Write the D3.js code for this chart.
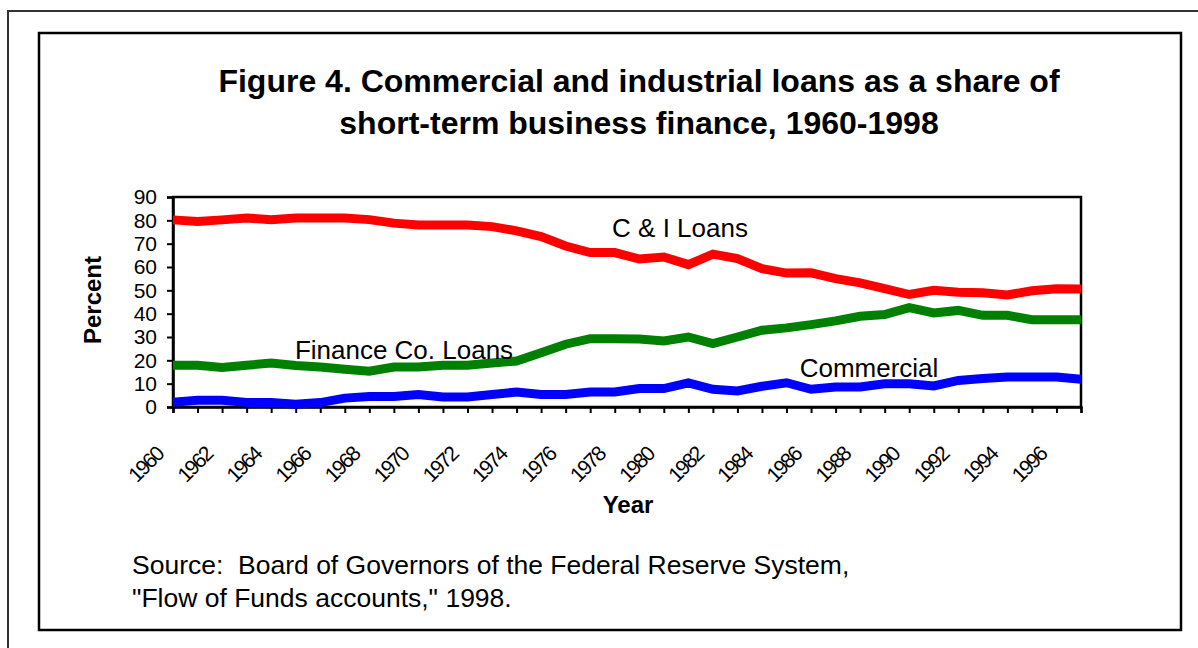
<!DOCTYPE html>
<html>
<head>
<meta charset="utf-8">
<script src="https://cdnjs.cloudflare.com/ajax/libs/d3/7.8.5/d3.min.js"></script>
<style>
  html, body { margin: 0; padding: 0; background: #fff; }
  svg { display: block; font-family: "Liberation Sans", Arial, sans-serif; }
</style>
</head>
<body>
<svg id="chart" width="1198" height="648"></svg>
<script>
// Years on the category axis
const years = d3.range(1960, 1998);
// Year labels shown under the axis (every other year)
const tickLabels = ["1960","1962","1964","1966","1968","1970","1972","1974","1976","1978",
  "1980","1982","1984","1986","1988","1990","1992","1994","1996"];
const yTicks = [0, 10, 20, 30, 40, 50, 60, 70, 80, 90];

// Shares of short-term business finance, percent
const ciLoans = [80.2, 79.5, 80.2, 81, 80.3, 81, 81, 81, 80.3, 78.8,
  78, 78, 78, 77.3, 75.5, 73, 69, 66.2, 66.2, 63.4,
  64.3, 61, 65.5, 63.6, 59.3, 57.4, 57.5, 55, 53.2, 50.7,
  48.2, 50, 49.2, 49, 48, 49.8, 50.7, 50.6];
const financeCo = [17.9, 17.9, 16.9, 17.9, 18.8, 17.8, 17.1, 16.2, 15.3, 17.1,
  17.1, 17.9, 17.9, 18.9, 19.7, 23.3, 26.9, 29.3, 29.3, 29.1,
  28.3, 30, 27.2, 30, 32.9, 33.9, 35.3, 36.9, 38.9, 39.6,
  42.6, 40.3, 41.4, 39.3, 39.3, 37.4, 37.4, 37.4];
const commercial = [2, 2.9, 2.9, 1.9, 1.9, 1.2, 1.9, 3.8, 4.5, 4.5,
  5.4, 4.3, 4.3, 5.4, 6.4, 5.4, 5.4, 6.4, 6.4, 7.9,
  7.9, 10.3, 7.6, 6.9, 8.9, 10.4, 7.6, 8.6, 8.6, 10,
  10, 9, 11.4, 12.2, 12.9, 12.9, 12.9, 11.9];

const seriesList = [
  { name: "C & I Loans", values: ciLoans, color: "#ff0000", lx: 680, ly: 228 },
  { name: "Finance Co. Loans", values: financeCo, color: "#008000", lx: 404, ly: 350 },
  { name: "Commercial", values: commercial, color: "#0000ff", lx: 869, ly: 368 }
];

const svg = d3.select("#chart");

// Outer and inner frames
svg.append("rect").attr("x", 8).attr("y", 11).attr("width", 1200).attr("height", 700)
  .attr("fill", "none").attr("stroke", "#333").attr("stroke-width", 2);
svg.append("rect").attr("x", 39).attr("y", 33).attr("width", 1142).attr("height", 597)
  .attr("fill", "none").attr("stroke", "#000").attr("stroke-width", 2.5);

// Title
const title = svg.append("text").attr("text-anchor", "middle")
  .attr("font-weight", "bold").attr("font-size", 32).attr("fill", "#000");
title.append("tspan").attr("x", 639).attr("y", 92)
  .text("Figure 4. Commercial and industrial loans as a share of");
title.append("tspan").attr("x", 639).attr("y", 134)
  .text("short-term business finance, 1960-1998");

const plot = { left: 173, right: 1081, top: 197, bottom: 407 };

const x = d3.scalePoint().domain(years).range([plot.left, plot.right]);
const y = d3.scaleLinear().domain([0, 90]).range([plot.bottom, plot.top]);

// Plot box
svg.append("rect").attr("x", plot.left).attr("y", plot.top)
  .attr("width", plot.right - plot.left).attr("height", plot.bottom - plot.top)
  .attr("fill", "none").attr("stroke", "#000").attr("stroke-width", 2.5);

// Y axis
const yAxis = svg.append("g").attr("transform", `translate(${plot.left},0)`)
  .call(d3.axisLeft(y).tickValues(yTicks).tickSize(6).tickPadding(10));
yAxis.select(".domain").attr("stroke-width", 2.5);
yAxis.selectAll(".tick line").attr("stroke-width", 2);
yAxis.selectAll(".tick text").attr("font-size", 21).attr("fill", "#000")
  .attr("font-family", "Liberation Sans, Arial, sans-serif");

// X axis: tick marks at every year, labels every other year
const xAxis = svg.append("g").attr("transform", `translate(0,${plot.bottom})`)
  .call(d3.axisBottom(x).tickSize(6).tickFormat(d => tickLabels.includes(String(d)) ? String(d) : ""));
xAxis.select(".domain").attr("stroke-width", 2.5);
xAxis.selectAll(".tick line").attr("stroke-width", 2);
xAxis.selectAll(".tick text")
  .attr("font-size", 21).attr("fill", "#000")
  .attr("font-family", "Liberation Sans, Arial, sans-serif")
  .attr("letter-spacing", -2)
  .attr("text-anchor", "end")
  .attr("x", 0).attr("y", 0).attr("dy", 0)
  .attr("transform", "translate(-9,49) rotate(-45)");

// Axis titles
svg.append("text").attr("transform", "translate(101,300) rotate(-90)")
  .attr("text-anchor", "middle").attr("font-weight", "bold").attr("font-size", 24)
  .text("Percent");
svg.append("text").attr("x", 628).attr("y", 513)
  .attr("text-anchor", "middle").attr("font-weight", "bold").attr("font-size", 24)
  .text("Year");

// Series lines
const line = d3.line().x((d, i) => x(years[i])).y(d => y(d));
seriesList.forEach(s => {
  svg.append("path").datum(s.values)
    .attr("d", line).attr("fill", "none")
    .attr("stroke", s.color).attr("stroke-width", 9)
    .attr("stroke-linejoin", "miter");
});

// Series labels
seriesList.forEach(s => {
  svg.append("text").attr("x", s.lx).attr("y", s.ly).attr("dy", "0.35em")
    .attr("text-anchor", "middle").attr("font-size", 26).attr("fill", "#000")
    .text(s.name);
});

// Source note
const src = svg.append("text").attr("font-size", 26.5).attr("fill", "#000")
  .style("white-space", "pre");
src.append("tspan").attr("x", 132).attr("y", 574)
  .text("Source:  Board of Governors of the Federal Reserve System,");
src.append("tspan").attr("x", 132).attr("y", 607)
  .text("\"Flow of Funds accounts,\" 1998.");
</script>
</body>
</html>
